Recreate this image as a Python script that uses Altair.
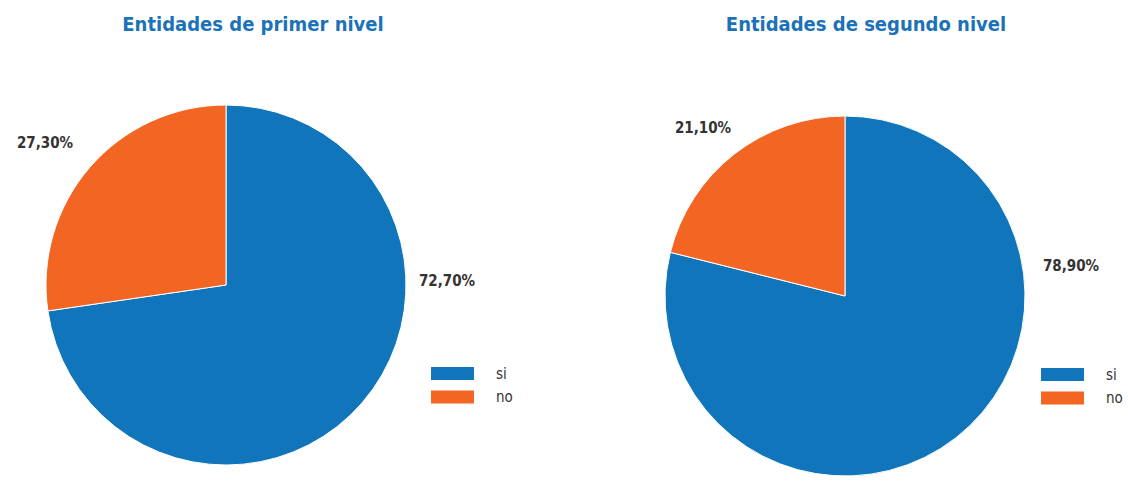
import altair as alt
import pandas as pd

categories = ["si", "no"]
primer_values = [72.7, 27.3]
segundo_values = [78.9, 21.1]
titles = ["Entidades de primer nivel", "Entidades de segundo nivel"]

BLUE = "#1075BA"
ORANGE = "#F26522"
TITLE_BLUE = "#1B72B8"
FONT = "DejaVu Sans Condensed, Open Sans, sans-serif"


def make_df(values):
    return pd.DataFrame({
        "cat": categories,
        "value": values,
        "idx": list(range(len(categories))),
        "label": [f"{v:.2f}%".replace(".", ",") for v in values],
    })


def panel(values, title, cx, cy, title_x, label_pos, legend_x, legend_y):
    df = make_df(values)
    base = alt.Chart(df)
    pie = base.mark_arc(radius=180, stroke="white", strokeWidth=1).encode(
        theta=alt.Theta("value:Q", stack=True),
        color=alt.Color(
            "cat:N",
            scale=alt.Scale(domain=categories, range=[BLUE, ORANGE]),
            sort=categories,
            legend=alt.Legend(
                title=None,
                orient="none",
                legendX=legend_x,
                legendY=legend_y,
                symbolType="M-3,-0.9H3V0.9H-3Z",
                symbolSize=205,
                symbolStrokeWidth=0,
                labelFontSize=15,
                labelFont=FONT,
                labelColor="#333333",
                labelOffset=36,
                rowPadding=7.5,
                padding=0,
            ),
        ),
        order=alt.Order("idx:Q"),
        x=alt.value(cx),
        y=alt.value(cy),
    )
    layers = [pie]
    for cat, (lx, ly) in zip(categories, label_pos):
        layers.append(
            base.transform_filter(alt.datum.cat == cat)
            .mark_text(font=FONT, fontSize=15, fontWeight="bold", color="#333333",
                       align="center", baseline="middle")
            .encode(text="label:N", x=alt.value(lx), y=alt.value(ly))
        )
    layers.append(
        alt.Chart(pd.DataFrame({"t": [title]})).mark_text(
            font=FONT, fontSize=20, fontWeight="bold", color=TITLE_BLUE,
            align="center", baseline="alphabetic"
        ).encode(text="t:N", x=alt.value(title_x), y=alt.value(31))
    )
    return alt.layer(*layers).properties(width=564, height=481)


left = panel(primer_values, titles[0], 226, 285, 253,
             [(447, 281), (45, 143)], 445, 366)
right = panel(segundo_values, titles[1], 281, 296, 302,
              [(507, 266), (139, 128)], 491, 367)

chart = alt.hconcat(left, right, spacing=0).resolve_scale(color="independent").properties(
    padding=0, background="white"
).configure_view(stroke=None)

chart.save("out.html", embed_options={"renderer": "svg", "actions": False})
